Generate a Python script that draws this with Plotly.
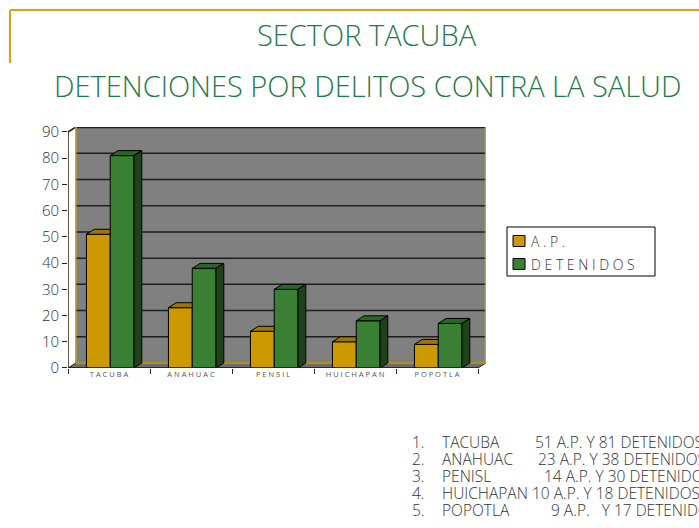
import plotly.graph_objects as go

# ---------------- data ----------------
categories = ["TACUBA", "ANAHUAC", "PENSIL", "HUICHAPAN", "POPOTLA"]
ap_values = [51, 23, 14, 10, 9]
detenidos_values = [81, 38, 30, 18, 17]
y_ticks = [0, 10, 20, 30, 40, 50, 60, 70, 80, 90]
series_names = ["A.P.", "DETENIDOS"]
list_numbers = ["1.", "2.", "3.", "4.", "5."]
list_names = ["TACUBA", "ANAHUAC", "PENISL", "HUICHAPAN", "POPOTLA"]
list_values = ["51 A.P. Y 81 DETENIDOS", "23 A.P. Y 38 DETENIDOS",
               "14 A.P. Y 30 DETENIDOS", "10 A.P. Y 18 DETENIDOS",
               "9 A.P.   Y 17 DETENIDOS"]

# ---------------- style ----------------
W, H = 699, 528
GOLD = "#CC9900"; GOLD_TOP = "#9E7700"; GOLD_SIDE = "#7A5C00"
GREEN = "#3A8034"; GREEN_TOP = "#2C6627"; GREEN_SIDE = "#1F421B"
WALL = "#808080"; GRID = "#1E1E1E"; EDGE_GOLD = "#D4A50F"
TITLE_GREEN = "#1F7A48"
FONT = "Open Sans"

n = len(categories)
DX = 0.095      # depth in x units
DY = 1.9        # depth in y units
BAR_W = 0.29
OFF_AP = -0.275
OFF_DET = OFF_AP + BAR_W

px_left, px_front_right = 68, 478
px_per_x = (px_front_right - px_left) / n
px_zero, px_top90 = 368, 132
px_per_y = (px_zero - px_top90) / 90.0

x_min, x_max = -0.5, n - 0.5 + DX
y_min, y_max = 0, max(y_ticks) + DY
dom_x = [px_left / W, (px_left + (x_max - x_min) * px_per_x) / W]
dom_y = [(H - px_zero) / H, (H - (px_zero - y_max * px_per_y)) / H]

def spaced(s, sep=" "):
    return sep.join(list(s))

fig = go.Figure()

fig.add_trace(go.Bar(x=list(range(n)), y=ap_values, width=BAR_W, offset=OFF_AP,
                     marker=dict(color=GOLD, line=dict(color="black", width=1)),
                     name=series_names[0], hoverinfo="skip", showlegend=False))
fig.add_trace(go.Bar(x=list(range(n)), y=detenidos_values, width=BAR_W, offset=OFF_DET,
                     marker=dict(color=GREEN, line=dict(color="black", width=1)),
                     name=series_names[1], hoverinfo="skip", showlegend=False))

def poly(xs, ys, color):
    fig.add_trace(go.Scatter(x=xs + [xs[0]], y=ys + [ys[0]], fill="toself",
                             fillcolor=color, mode="lines",
                             line=dict(color="black", width=1),
                             showlegend=False, hoverinfo="skip"))

for i in range(n):
    x0 = i + OFF_AP; x1 = x0 + BAR_W; v = ap_values[i]
    if detenidos_values[i] >= v + DY:
        poly([x0, x1, x1, x0 + DX], [v, v, v + DY, v + DY], GOLD_TOP)
    else:
        poly([x0, x1, x1 + DX, x0 + DX], [v, v, v + DY, v + DY], GOLD_TOP)
        poly([x1, x1 + DX, x1 + DX, x1], [0, DY, v + DY, v], GOLD_SIDE)
    g0 = i + OFF_DET; g1 = g0 + BAR_W; g = detenidos_values[i]
    poly([g0, g1, g1 + DX, g0 + DX], [g, g, g + DY, g + DY], GREEN_TOP)
    poly([g1, g1 + DX, g1 + DX, g1], [0, DY, g + DY, g], GREEN_SIDE)

shapes = []
shapes.append(dict(type="rect", xref="x", yref="y", x0=x_min + DX, x1=x_max,
                   y0=DY, y1=max(y_ticks) + DY, fillcolor=WALL,
                   line=dict(width=0), layer="below"))
for t in y_ticks[1:-1]:
    shapes.append(dict(type="line", xref="x", yref="y", x0=x_min + DX, x1=x_max,
                       y0=t + DY, y1=t + DY, line=dict(color=GRID, width=1.5),
                       layer="below"))
shapes.append(dict(type="line", xref="x", yref="y", x0=x_min + DX, x1=x_max,
                   y0=max(y_ticks) + DY, y1=max(y_ticks) + DY,
                   line=dict(color="#2A2200", width=2.5), layer="below"))
shapes.append(dict(type="line", xref="x", yref="y", x0=x_min, x1=x_min + DX,
                   y0=max(y_ticks), y1=max(y_ticks) + DY,
                   line=dict(color="#2A2200", width=1.5), layer="below"))
shapes.append(dict(type="line", xref="x", yref="y", x0=x_min + DX, x1=x_min + DX,
                   y0=DY, y1=max(y_ticks) + DY, line=dict(color=EDGE_GOLD, width=1.5),
                   layer="below"))
shapes.append(dict(type="line", xref="x", yref="y", x0=x_max, x1=x_max,
                   y0=DY, y1=max(y_ticks) + DY, line=dict(color=EDGE_GOLD, width=2),
                   layer="below"))
shapes.append(dict(type="path", xref="x", yref="y",
                   path=f"M {x_min},0 L {n-0.5},0 L {x_max},{DY} L {x_min+DX},{DY} Z",
                   fillcolor="#6E6E6E", line=dict(color="#2A2200", width=1),
                   layer="below"))
shapes.append(dict(type="line", xref="x", yref="y", x0=x_min + DX, x1=x_max,
                   y0=DY, y1=DY, line=dict(color=EDGE_GOLD, width=1.5), layer="below"))
shapes.append(dict(type="line", xref="x", yref="y", x0=x_min, x1=x_min,
                   y0=0, y1=max(y_ticks), line=dict(color="#2A2200", width=1.5)))
shapes.append(dict(type="line", xref="x", yref="y", x0=x_min, x1=n - 0.5,
                   y0=0, y1=0, line=dict(color="#2A2200", width=1.5)))

# decorative frame at top-left
shapes.append(dict(type="line", xref="paper", yref="paper", x0=10 / W, x1=1,
                   y0=1 - 10 / H, y1=1 - 10 / H, line=dict(color=EDGE_GOLD, width=2)))
shapes.append(dict(type="line", xref="paper", yref="paper", x0=10 / W, x1=10 / W,
                   y0=1 - 10 / H, y1=1 - 63 / H, line=dict(color=EDGE_GOLD, width=2)))

# legend (box + swatches + labels)
LEG = dict(x0=507, x1=655, y0=227, y1=276)
shapes.append(dict(type="rect", xref="paper", yref="paper",
                   x0=LEG["x0"] / W, x1=LEG["x1"] / W,
                   y0=1 - LEG["y1"] / H, y1=1 - LEG["y0"] / H,
                   fillcolor="white", line=dict(color="black", width=1)))
leg_rows = [241, 264]
leg_colors = [GOLD, GREEN]
annotations = []
for k in range(2):
    cy = leg_rows[k]
    shapes.append(dict(type="rect", xref="paper", yref="paper",
                       x0=513 / W, x1=525 / W,
                       y0=1 - (cy + 5.5) / H, y1=1 - (cy - 5.5) / H,
                       fillcolor=leg_colors[k], line=dict(color="black", width=1)))
    annotations.append(dict(text=spaced(series_names[k]), x=529 / W, y=1 - cy / H,
                            xref="paper", yref="paper", showarrow=False,
                            xanchor="left", yanchor="middle",
                            font=dict(family=FONT, size=14, color="#333333", weight=300)))

annotations += [
    dict(text="SECTOR TACUBA", x=367 / W, y=1 - 34 / H, xref="paper", yref="paper",
         showarrow=False, xanchor="center", yanchor="middle",
         font=dict(family=FONT, size=29, color=TITLE_GREEN, weight=300)),
    dict(text="DETENCIONES POR DELITOS CONTRA LA SALUD", x=367 / W, y=1 - 85 / H,
         xref="paper", yref="paper", showarrow=False, xanchor="center",
         yanchor="middle",
         font=dict(family=FONT, size=29, color=TITLE_GREEN, weight=300)),
]
row_y = [442, 459, 476, 493, 510]
num_x, name_x = 410, 440
val_x = [533, 536, 542, 530, 549]
for k in range(len(list_numbers)):
    f = dict(family=FONT, size=15.5, color="#333333", weight=300)
    annotations.append(dict(text=list_numbers[k], x=num_x / W, y=1 - row_y[k] / H,
                            xref="paper", yref="paper", showarrow=False,
                            xanchor="left", yanchor="middle", font=f))
    annotations.append(dict(text=list_names[k], x=name_x / W, y=1 - row_y[k] / H,
                            xref="paper", yref="paper", showarrow=False,
                            xanchor="left", yanchor="middle", font=f))
    annotations.append(dict(text=list_values[k].replace("  ", "&nbsp;&nbsp;"),
                            x=val_x[k] / W, y=1 - row_y[k] / H,
                            xref="paper", yref="paper", showarrow=False,
                            xanchor="left", yanchor="middle", font=f))

fig.update_layout(
    width=W, height=H, margin=dict(l=0, r=0, t=0, b=0, autoexpand=False),
    paper_bgcolor="white", plot_bgcolor="rgba(0,0,0,0)",
    barmode="overlay", showlegend=False,
    shapes=shapes, annotations=annotations,
    xaxis=dict(domain=dom_x, range=[x_min, x_max], tickvals=list(range(n)),
               ticktext=[spaced(c) for c in categories], ticks="",
               tickfont=dict(family=FONT, size=7.5, color="#555555"),
               minor=dict(tickvals=[i - 0.5 for i in range(n + 1)], ticks="outside",
                          ticklen=5, tickcolor="#2A2200", showgrid=False),
               showgrid=False, zeroline=False, showline=False, automargin=False),
    yaxis=dict(domain=dom_y, range=[y_min, y_max], tickvals=y_ticks,
               ticks="outside", ticklen=5, tickcolor="#2A2200", automargin=False,
               showgrid=False, zeroline=False, showline=False,
               tickfont=dict(family=FONT, size=15, color="#333333", weight=300)),
)

fig.write_html("out.html", config={"displayModeBar": False},
               post_script="document.body.style.margin='0';document.body.style.overflow='hidden';")
